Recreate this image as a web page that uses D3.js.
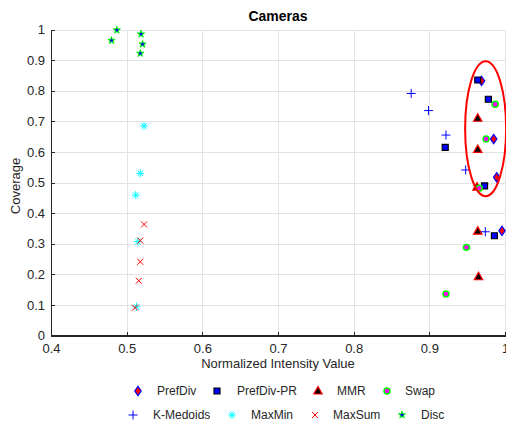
<!DOCTYPE html>
<html>
<head>
  <meta charset="UTF-8">
  <title>Cameras</title>
  <style>
    body { margin: 0; background: #fff; }
    text { font-family: 'Liberation Sans', Arial, sans-serif; fill: #262626; }
    .grid line { stroke: #e3e3e3; stroke-width: 1; shape-rendering: crispEdges; }
    .axis path, .axis line { stroke: #262626; shape-rendering: crispEdges; }
  </style>
</head>
<body>
<svg id="chart"></svg>
<script src="https://d3js.org/d3.v7.min.js"></script>
<script>

// Series values
const series = ["PrefDiv", "PrefDiv-PR", "MMR", "Swap", "K-Medoids", "MaxMin", "MaxSum", "Disc"];

const prefDivX   = [0.969, 0.985, 0.989, 0.996];
const prefDivY   = [0.832, 0.642, 0.517, 0.342];
const prefDivPrX = [0.964, 0.978, 0.921, 0.973, 0.986];
const prefDivPrY = [0.835, 0.772, 0.615, 0.489, 0.326];
const mmrX       = [0.964, 0.964, 0.963, 0.964, 0.965];
const mmrY       = [0.710, 0.608, 0.485, 0.341, 0.192];
const swapX      = [0.987, 0.975, 0.966, 0.949, 0.922];
const swapY      = [0.756, 0.642, 0.481, 0.288, 0.136];
const kMedoidsX  = [0.876, 0.899, 0.922, 0.948, 0.974];
const kMedoidsY  = [0.791, 0.735, 0.655, 0.541, 0.339];
const maxMinX    = [0.523, 0.518, 0.512, 0.515, 0.513];
const maxMinY    = [0.685, 0.530, 0.459, 0.307, 0.094];
const maxSumX    = [0.523, 0.518, 0.518, 0.516, 0.511];
const maxSumY    = [0.363, 0.310, 0.241, 0.179, 0.091];
const discX      = [0.487, 0.480, 0.519, 0.521, 0.518];
const discY      = [0.998, 0.964, 0.985, 0.952, 0.922];

const xTicks = [0.4, 0.5, 0.6, 0.7, 0.8, 0.9, 1];
const yTicks = [0, 0.1, 0.2, 0.3, 0.4, 0.5, 0.6, 0.7, 0.8, 0.9, 1];

// highlight ellipse (data coordinates)
const ellipseC = [0.9744, 0.676], ellipseR = [0.0271, 0.2206];

const seriesX = [prefDivX, prefDivPrX, mmrX, swapX, kMedoidsX, maxMinX, maxSumX, discX];
const seriesY = [prefDivY, prefDivPrY, mmrY, swapY, kMedoidsY, maxMinY, maxSumY, discY];

const width = 506, height = 423;
const plotL = 51, plotR = 505, plotT = 29.5, plotB = 335.5;

const svg = d3.select("#chart").attr("width", width).attr("height", height);

const x = d3.scaleLinear().domain([0.4, 1]).range([plotL, plotR]);
const y = d3.scaleLinear().domain([0, 1]).range([plotB, plotT]);

// marker styles per series
const styles = [
  {shape: "diamond", stroke: "#0000ff", fill: "#ff0000", sw: 1.2},
  {shape: "square", stroke: "#000", fill: "#0000ff", sw: 1.2},
  {shape: "triangle", stroke: "#ff0000", fill: "#000", sw: 1.2},
  {shape: "circle", stroke: "#00ff00", fill: "#ff00ff", sw: 1.5},
  {shape: "plus", stroke: "#0000ff", fill: "none", sw: 1},
  {shape: "asterisk", stroke: "#00ffff", fill: "none", sw: 1},
  {shape: "times", stroke: "#ff0000", fill: "none", sw: 1},
  {shape: "star", stroke: "#00ff00", fill: "#0000ff", sw: 1}
];

function marker(shape) {
  switch (shape) {
    case "diamond": return "M0,-4.6L3.2,0L0,4.6L-3.2,0Z";
    case "square": return "M-3,-3H3V3H-3Z";
    case "triangle": return "M0,-4.5L4.2,3L-4.2,3Z";
    case "circle": return d3.symbol(d3.symbolCircle, 28)();
    case "plus": return "M-4.5,0H4.5M0,-4.5V4.5";
    case "asterisk": return "M-4,0H4M0,-4V4M-2.8,-2.8L2.8,2.8M-2.8,2.8L2.8,-2.8";
    case "times": return "M-3,-3L3,3M-3,3L3,-3";
    case "star": return d3.symbol(d3.symbolStar, 16)();
  }
}

// grid
const grid = svg.append("g").attr("class", "grid");
grid.selectAll(".gx").data(xTicks).join("line").attr("class", "gx")
  .attr("x1", d => Math.round(x(d)) + 0.5).attr("x2", d => Math.round(x(d)) + 0.5)
  .attr("y1", plotT).attr("y2", plotB);
grid.selectAll(".gy").data(yTicks).join("line").attr("class", "gy")
  .attr("y1", d => Math.round(y(d)) + 0.5).attr("y2", d => Math.round(y(d)) + 0.5)
  .attr("x1", plotL).attr("x2", plotR);

// axes
const xAxis = svg.append("g").attr("class", "axis")
  .attr("transform", "translate(0," + plotB + ")")
  .call(d3.axisBottom(x).tickValues(xTicks).tickSize(-4).tickSizeOuter(0)
    .tickFormat(d => d === 1 ? "1" : d3.format(".1f")(d)));
xAxis.selectAll("text").attr("font-size", 13).attr("dy", "0.71em").attr("y", 8);
xAxis.select(".domain").attr("stroke-width", 1.2);

const yAxis = svg.append("g").attr("class", "axis")
  .attr("transform", "translate(" + plotL + ",0)")
  .call(d3.axisLeft(y).tickValues(yTicks).tickSize(-4).tickSizeOuter(0)
    .tickFormat(d => (d === 0 || d === 1) ? String(d) : d3.format(".1f")(d)));
yAxis.selectAll("text").attr("font-size", 13).attr("x", -6);
yAxis.select(".domain").attr("stroke-width", 1.2);
svg.selectAll(".axis text").style("font-family", "'Liberation Sans', Arial, sans-serif").attr("fill", "#262626");

// labels
svg.append("text").attr("x", (plotL + plotR) / 2).attr("y", 21)
  .attr("text-anchor", "middle").attr("font-size", 14).attr("font-weight", "bold")
  .style("fill", "#000").text("Cameras");
svg.append("text").attr("x", (plotL + plotR) / 2).attr("y", 368)
  .attr("text-anchor", "middle").attr("font-size", 13).text("Normalized Intensity Value");
svg.append("text").attr("transform", "translate(20,186) rotate(-90)")
  .attr("text-anchor", "middle").attr("font-size", 13).text("Coverage");

// points
series.forEach((name, i) => {
  const pts = seriesX[i].map((v, j) => [v, seriesY[i][j]]);
  const s = styles[i];
  svg.append("g").selectAll("path").data(pts).join("path")
    .attr("d", marker(s.shape))
    .attr("transform", d => "translate(" + x(d[0]) + "," + y(d[1]) + ")")
    .attr("fill", s.fill).attr("stroke", s.stroke).attr("stroke-width", s.sw);
});

// highlight ellipse
svg.append("ellipse")
  .attr("cx", x(ellipseC[0])).attr("cy", y(ellipseC[1]))
  .attr("rx", x(ellipseC[0] + ellipseR[0]) - x(ellipseC[0]))
  .attr("ry", y(ellipseC[1] - ellipseR[1]) - y(ellipseC[1]))
  .attr("fill", "none").attr("stroke", "#ff0000").attr("stroke-width", 2);

// legend, two rows of four
const legendPos = [
  [138, 391, 157], [217, 391, 237], [318, 391, 337], [387, 391, 405],
  [133, 415, 153], [232, 415, 251], [315, 415, 333], [402, 415, 421]
];
const legend = svg.append("g");
series.forEach((name, i) => {
  const s = styles[i], p = legendPos[i];
  legend.append("path").attr("d", marker(s.shape))
    .attr("transform", "translate(" + p[0] + "," + p[1] + ")")
    .attr("fill", s.fill).attr("stroke", s.stroke).attr("stroke-width", s.sw);
  legend.append("text").attr("x", p[2]).attr("y", p[1]).attr("dy", "0.35em")
    .attr("font-size", 12).text(name);
});

</script>
</body>
</html>
